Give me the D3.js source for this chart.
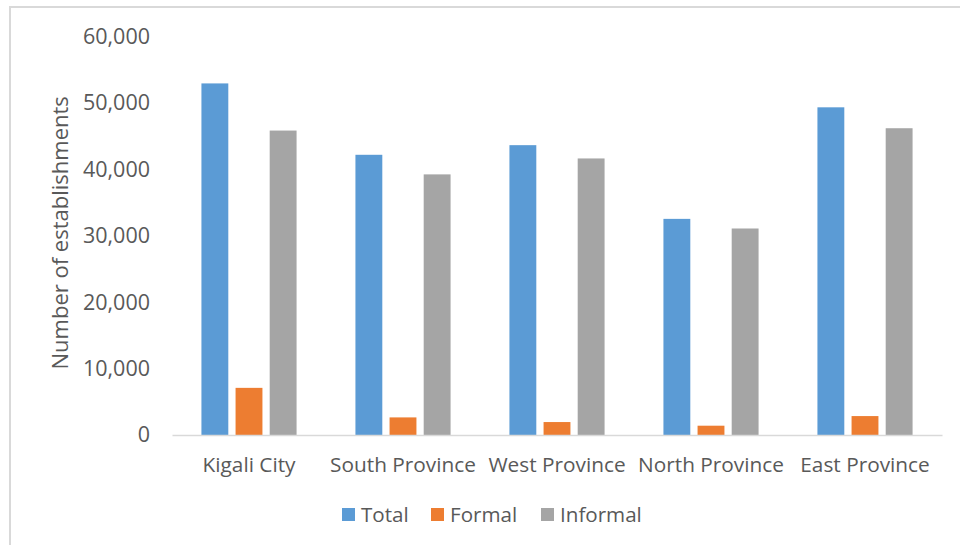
<!DOCTYPE html>
<html>
<head>
<meta charset="utf-8">
<script src="https://cdn.jsdelivr.net/npm/d3@7"></script>
<style>
  html, body { margin: 0; padding: 0; background: #fff; }
  svg { display: block; }
  text { font-family: "Open Sans", "Noto Sans", sans-serif; fill: #595959; }
</style>
</head>
<body>
<svg id="chart" width="960" height="545"></svg>
<script>
// ---- data ----
const categories = ["Kigali City", "South Province", "West Province", "North Province", "East Province"];
const seriesNames = ["Total", "Formal", "Informal"];
const totalValues = [52950, 42200, 43650, 32550, 49350];
const formalValues = [7100, 2650, 1950, 1400, 2850];
const informalValues = [45850, 39250, 41650, 31100, 46200];
const yTicks = [0, 10000, 20000, 30000, 40000, 50000, 60000];
const colors = ["#5B9BD5", "#ED7D31", "#A5A5A5"];
const yTitle = "Number of establishments";

const seriesValues = [totalValues, formalValues, informalValues];

const svg = d3.select("#chart");
const W = 960, H = 545;
const margin = { left: 172, right: 18, top: 36.6, bottom: 110 };
const plotRight = W - margin.right;
const plotBottom = 435;

// frame (cut off at right and bottom)
svg.append("path")
  .attr("d", `M10,${H} L10,7 L${W},7`)
  .attr("fill", "none")
  .attr("stroke", "#d9d9d9")
  .attr("stroke-width", 2);

const x = d3.scaleBand().domain(categories).range([margin.left, plotRight]).padding(0);
const y = d3.scaleLinear().domain([0, 60000]).range([plotBottom, margin.top]);

// Excel default: gap width 219%, overlap -27%
const band = x.bandwidth();
const barW = band / (3 + 2 * 0.27 + 2.19);
const step = barW * 1.27;
const offset = barW * 2.19 / 2;
const xs = d3.scaleBand().domain(seriesNames).range([0, 3 * step]);

const groups = svg.append("g").selectAll("g")
  .data(seriesNames)
  .join("g")
  .attr("fill", (d, i) => colors[i]);

groups.selectAll("rect")
  .data((s, si) => categories.map((c, ci) => ({ c, s, v: seriesValues[si][ci] })))
  .join("rect")
  .attr("x", d => x(d.c) + offset + xs(d.s))
  .attr("width", barW)
  .attr("y", d => y(d.v))
  .attr("height", d => plotBottom - y(d.v));

// x axis line
const xAxis = d3.axisBottom(x).tickSize(0).tickPadding(22);
const gx = svg.append("g").attr("transform", `translate(0,${plotBottom})`).call(xAxis);
gx.select(".domain").attr("stroke", "#d9d9d9").attr("stroke-width", 1.5);
gx.selectAll("text").style("font-size", "20.8px").attr("fill", "#595959").attr("dy", "0.71em");

// y axis labels
const yAxis = d3.axisLeft(y).tickValues(yTicks).tickSize(0).tickPadding(22)
  .tickFormat(d3.format(","));
const gy = svg.append("g").attr("transform", `translate(${margin.left},0)`).call(yAxis);
gy.select(".domain").remove();
gy.selectAll("text").style("font-size", "21.5px").attr("fill", "#595959");

// y title
svg.append("text")
  .attr("transform", `translate(68,${(plotBottom + margin.top) / 2 - 3}) rotate(-90)`)
  .attr("text-anchor", "middle")
  .style("font-size", "22px")
  .text(yTitle);

// legend
const legendX = [342, 431, 541];
const lg = svg.append("g").selectAll("g").data(seriesNames).join("g")
  .attr("transform", (d, i) => `translate(${legendX[i]},508)`);
lg.append("rect").attr("width", 13).attr("height", 13).attr("fill", (d, i) => colors[i]);
lg.append("text").attr("x", 19).attr("y", 13.8).style("font-size", "20.6px").text(d => d);
</script>
</body>
</html>
